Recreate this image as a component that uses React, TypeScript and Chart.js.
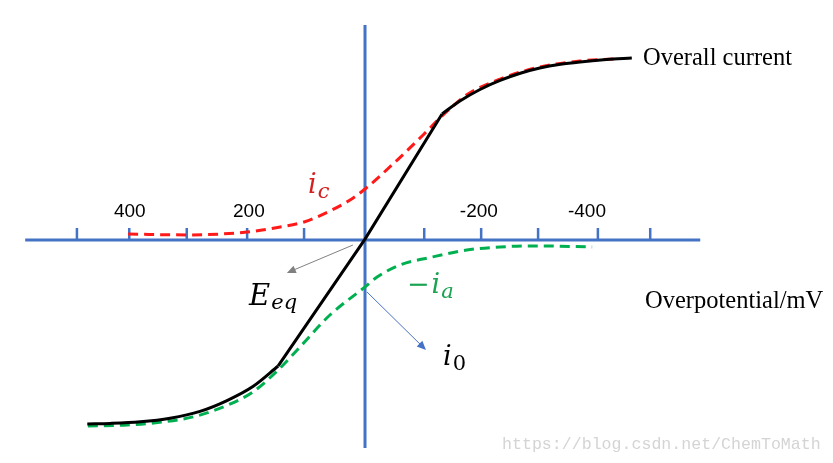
import React, { useEffect, useRef } from 'react';
import { Chart, registerables } from 'chart.js';

Chart.register(...registerables);

// Scale ranges (overpotential in mV, reversed axis; current in relative units)
const X_MIN = -813.9;
const X_MAX = 634.8;
const Y_MIN = -123.9;
const Y_MAX = 133.3;

// Overall current (solid black), three pieces: lower curve, linear region, upper curve
const blackLowV = [483, 443, 391, 339, 287, 240, 195, 151];
const blackLowI = [-102.2, -101.9, -101.0, -99.0, -95.2, -89.2, -81.4, -70];
const blackMidV = [151, 0, -134];
const blackMidI = [-70, 0.5, 70];
const blackHighV = [-134, -165, -200, -235, -270, -304, -340, -374, -420, -464];
const blackHighI = [70, 77.2, 83.6, 88.6, 92.6, 95.5, 97.6, 98.9, 100.2, 101.1];

// Cathodic current i_c (red dashed)
const icV = [412, 310, 205, 157, 106, 61, 26, 0, -56, -101, -136, -177, -235, -304, -374, -435];
const icI = [3.3, 2.8, 4.4, 6.7, 10, 16.1, 22.2, 28.3, 44.4, 58.3, 69.5, 80.6, 89.4, 96.1, 99.4, 100.6];

// Anodic current -i_a (green dashed)
const iaV = [482, 414, 357, 299, 240, 195, 151, 113, 61, 0, -21, -61, -118, -177, -235, -292, -395];
const iaI = [-103.3, -102.8, -101.3, -98.3, -91.9, -84.4, -72.2, -59.4, -41.7, -26.1, -20.6, -13.9, -9.4, -5.6, -3.9, -3.3, -3.9];

// Axis
const axisXFrom = 591;
const axisXTo = -583;
const axisYFrom = 119.4;
const axisYTo = -115.6;
const tickValues = [501, 410, 310, 205, 106, -103, -202, -301, -405, -496];
const tickHeight = 6.7;
const tickLabels = ['400', '200', '-200', '-400'];
const tickLabelValues = [409, 202, -198, -386];
const tickLabelLevel = 15.6;

// Arrows [fromV, fromI, toV, toI]
const eqArrow = [21, -2.8, 136, -18.3];
const i0Arrow = [-3.5, -28.9, -106, -61.1];

// Text anchors (left, baseline) in data units
const overallPos = [-483.5, 97.2];
const overpotPos = [-487, -37.8];
const eeqPos = [201.7, -36.1];
const icPos = [99.1, 26.1];
const iaPos = [-73, -29.4];
const i0Pos = [-135.7, -69.4];
const watermarkPos = [-238.3, -116.1];

const AXIS_COLOR = '#4472C4';
const RED = '#ff1a1a';
const GREEN = '#00b050';

const zip = (vs: number[], is: number[]) => vs.map((v, k) => ({ x: v, y: is[k] }));

const MATH_FONT = '"DejaVu Serif"';

function drawMath(
  ctx: CanvasRenderingContext2D,
  x: number,
  y: number,
  prefix: string,
  main: string,
  sub: string,
  subItalic: boolean,
  color: string,
  size: number,
  subSize: number,
  subDrop: number
) {
  ctx.fillStyle = color;
  ctx.textBaseline = 'alphabetic';
  ctx.textAlign = 'left';
  let cx = x;
  if (prefix) {
    ctx.font = `${size}px ${MATH_FONT}`;
    ctx.fillText(prefix, cx, y);
    cx += ctx.measureText(prefix).width + 2;
  }
  ctx.font = `italic ${size}px ${MATH_FONT}`;
  ctx.fillText(main, cx, y);
  const w = ctx.measureText(main).width;
  ctx.font = `${subItalic ? 'italic ' : ''}${subSize}px ${MATH_FONT}`;
  ctx.fillText(sub, cx + w + 1, y + subDrop);
}

function drawArrow(ctx: CanvasRenderingContext2D, x1: number, y1: number, x2: number, y2: number, color: string) {
  const ang = Math.atan2(y2 - y1, x2 - x1);
  const len = 9;
  const half = 4;
  ctx.strokeStyle = color;
  ctx.fillStyle = color;
  ctx.lineWidth = 1;
  ctx.beginPath();
  ctx.moveTo(x1, y1);
  ctx.lineTo(x2 - Math.cos(ang) * len * 0.8, y2 - Math.sin(ang) * len * 0.8);
  ctx.stroke();
  ctx.beginPath();
  ctx.moveTo(x2, y2);
  ctx.lineTo(x2 - Math.cos(ang) * len - Math.sin(ang) * half, y2 - Math.sin(ang) * len + Math.cos(ang) * half);
  ctx.lineTo(x2 - Math.cos(ang) * len + Math.sin(ang) * half, y2 - Math.sin(ang) * len - Math.cos(ang) * half);
  ctx.closePath();
  ctx.fill();
}

const diagramPlugin = {
  id: 'diagram',
  beforeDatasetsDraw(chart: any) {
    const { ctx } = chart;
    const xs = chart.scales.x;
    const ys = chart.scales.y;
    const px = (v: number) => xs.getPixelForValue(v);
    const py = (v: number) => ys.getPixelForValue(v);
    ctx.save();
    ctx.strokeStyle = AXIS_COLOR;
    ctx.lineWidth = 3;
    ctx.lineCap = 'butt';
    ctx.beginPath();
    ctx.moveTo(px(axisXFrom), py(0));
    ctx.lineTo(px(axisXTo), py(0));
    ctx.moveTo(px(0), py(axisYFrom));
    ctx.lineTo(px(0), py(axisYTo));
    ctx.stroke();
    ctx.lineWidth = 2.5;
    ctx.beginPath();
    tickValues.forEach((t) => {
      ctx.moveTo(px(t), py(0));
      ctx.lineTo(px(t), py(tickHeight));
    });
    ctx.stroke();
    ctx.fillStyle = '#000';
    ctx.font = '19px "Liberation Sans"';
    ctx.textAlign = 'center';
    ctx.textBaseline = 'middle';
    tickLabels.forEach((lab, k) => {
      ctx.fillText(lab, px(tickLabelValues[k]), py(tickLabelLevel));
    });
    ctx.restore();
  },
  afterDatasetsDraw(chart: any) {
    const { ctx } = chart;
    const xs = chart.scales.x;
    const ys = chart.scales.y;
    const px = (v: number) => xs.getPixelForValue(v);
    const py = (v: number) => ys.getPixelForValue(v);
    ctx.save();
    drawArrow(ctx, px(eqArrow[0]), py(eqArrow[1]), px(eqArrow[2]), py(eqArrow[3]), '#808080');
    drawArrow(ctx, px(i0Arrow[0]), py(i0Arrow[1]), px(i0Arrow[2]), py(i0Arrow[3]), AXIS_COLOR);

    ctx.fillStyle = '#000';
    ctx.textAlign = 'left';
    ctx.textBaseline = 'alphabetic';
    ctx.font = '24.5px "Liberation Serif"';
    ctx.fillText('Overall current', px(overallPos[0]), py(overallPos[1]));
    ctx.fillText('Overpotential/mV', px(overpotPos[0]), py(overpotPos[1]));

    drawMath(ctx, px(eeqPos[0]), py(eeqPos[1]), '', 'E', 'eq', true, '#000', 29, 21, 4);
    drawMath(ctx, px(icPos[0]), py(icPos[1]), '', 'i', 'c', true, '#d42020', 27, 21, 5);
    drawMath(ctx, px(iaPos[0]), py(iaPos[1]), '\u2212', 'i', 'a', true, '#1aa352', 27, 21, 5);
    drawMath(ctx, px(i0Pos[0]), py(i0Pos[1]), '', 'i', '0', false, '#000', 27, 21, 5);

    ctx.fillStyle = '#d4d4d4';
    ctx.font = '16.6px "Liberation Mono"';
    ctx.textAlign = 'left';
    ctx.fillText('https://blog.csdn.net/ChemToMath', px(watermarkPos[0]), py(watermarkPos[1]));
    ctx.restore();
  },
};

export default function App() {
  const canvasRef = useRef<HTMLCanvasElement | null>(null);

  useEffect(() => {
    if (!canvasRef.current) return;
    const solid = {
      borderColor: '#000',
      borderWidth: 3,
      pointRadius: 0,
      showLine: true,
      fill: false,
      cubicInterpolationMode: 'monotone' as const,
    };
    const chart = new Chart(canvasRef.current, {
      type: 'scatter',
      data: {
        datasets: [
          { ...solid, label: 'Overall current (low)', data: zip(blackLowV, blackLowI) },
          { ...solid, label: 'Overall current (linear)', data: zip(blackMidV, blackMidI), cubicInterpolationMode: 'default', tension: 0 },
          { ...solid, label: 'Overall current (high)', data: zip(blackHighV, blackHighI) },
          {
            label: 'i_c',
            data: zip(icV, icI),
            borderColor: RED,
            borderWidth: 3,
            borderDash: [10, 6],
            pointRadius: 0,
            showLine: true,
            cubicInterpolationMode: 'monotone',
          },
          {
            label: '-i_a',
            data: zip(iaV, iaI),
            borderColor: GREEN,
            borderWidth: 3,
            borderDash: [10, 6],
            pointRadius: 0,
            showLine: true,
            cubicInterpolationMode: 'monotone',
          },
        ],
      },
      options: {
        animation: false,
        responsive: false,
        maintainAspectRatio: false,
        layout: { padding: 0 },
        plugins: {
          legend: { display: false },
          tooltip: { enabled: false },
        },
        scales: {
          x: { type: 'linear', min: X_MIN, max: X_MAX, reverse: true, display: false },
          y: { type: 'linear', min: Y_MIN, max: Y_MAX, display: false },
        },
      },
      plugins: [diagramPlugin],
    });
    return () => chart.destroy();
  }, []);

  return (
    <div style={{ position: 'fixed', left: 0, top: 0, width: 833, height: 463, background: '#fff' }}>
      <canvas ref={canvasRef} width={833} height={463} style={{ display: 'block', width: 833, height: 463 }} />
    </div>
  );
}
